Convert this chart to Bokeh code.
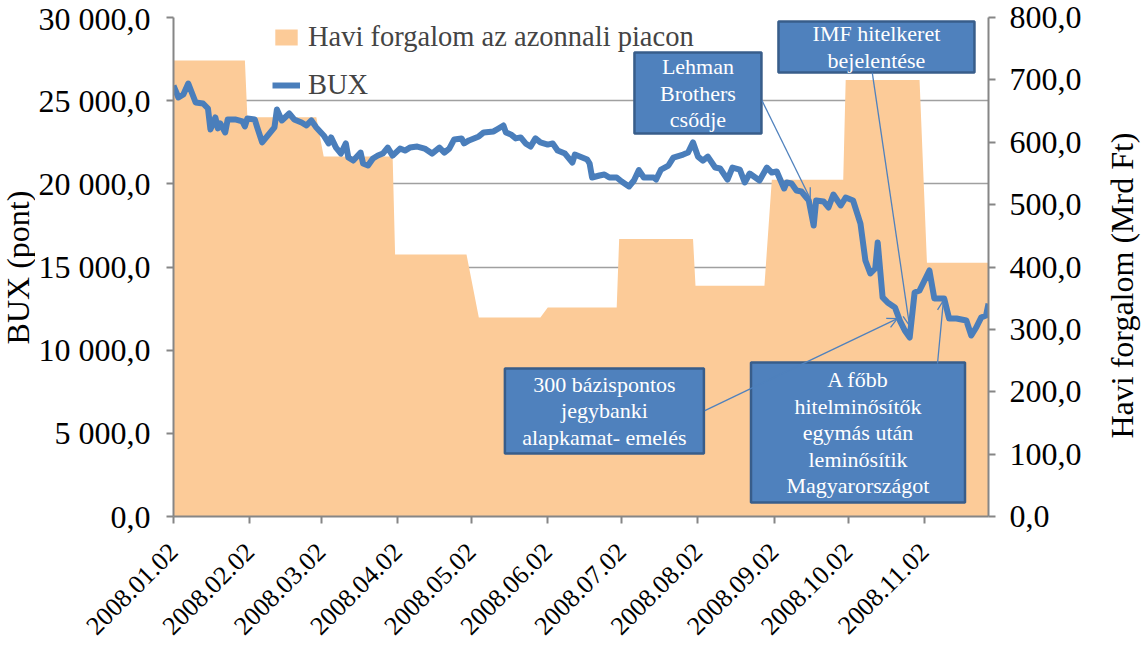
import math
import pandas as pd
from bokeh.plotting import figure
from bokeh.layouts import row
from bokeh.models import (Range1d, LinearAxis, FixedTicker, CustomJSTickFormatter,
                          DatetimeTickFormatter, Legend, LegendItem, Arrow, OpenHead, Label)
from bokeh.embed import file_html
from bokeh.resources import INLINE

# ---------------- data ----------------
months = ["2008-01", "2008-02", "2008-03", "2008-04", "2008-05", "2008-06",
          "2008-07", "2008-08", "2008-09", "2008-10", "2008-11"]
turnover = [731, 640, 577, 420, 319, 335, 445, 370, 540, 700, 407]  # Mrd Ft
holidays = ["2008-03-24", "2008-05-01", "2008-05-02", "2008-05-12",
            "2008-08-20", "2008-10-23", "2008-10-24"]

bux_dates = [
    "2008-01-02", "2008-01-04", "2008-01-06", "2008-01-08", "2008-01-11", "2008-01-14",
    "2008-01-16", "2008-01-17", "2008-01-19", "2008-01-20", "2008-01-21", "2008-01-23",
    "2008-01-24", "2008-01-27", "2008-01-30", "2008-01-31", "2008-02-01", "2008-02-04",
    "2008-02-05", "2008-02-07", "2008-02-10", "2008-02-12", "2008-02-13", "2008-02-15",
    "2008-02-18", "2008-02-20", "2008-02-23", "2008-02-25", "2008-02-27", "2008-02-29",
    "2008-03-03", "2008-03-05", "2008-03-06", "2008-03-08", "2008-03-10", "2008-03-12",
    "2008-03-13", "2008-03-15", "2008-03-18", "2008-03-19", "2008-03-21", "2008-03-23",
    "2008-03-25", "2008-03-27", "2008-03-29", "2008-03-31", "2008-04-03", "2008-04-05",
    "2008-04-07", "2008-04-10", "2008-04-13", "2008-04-16", "2008-04-19", "2008-04-21",
    "2008-04-23", "2008-04-25", "2008-04-28", "2008-04-29", "2008-05-01", "2008-05-05",
    "2008-05-07", "2008-05-11", "2008-05-13", "2008-05-15", "2008-05-16", "2008-05-18",
    "2008-05-20", "2008-05-22", "2008-05-24", "2008-05-26", "2008-05-28", "2008-05-30",
    "2008-06-02", "2008-06-04", "2008-06-06", "2008-06-09", "2008-06-12", "2008-06-13",
    "2008-06-16", "2008-06-18", "2008-06-19", "2008-06-20", "2008-06-23", "2008-06-25",
    "2008-06-27", "2008-06-30", "2008-07-02", "2008-07-05", "2008-07-07", "2008-07-09",
    "2008-07-11", "2008-07-15", "2008-07-16", "2008-07-18", "2008-07-21", "2008-07-23",
    "2008-07-27", "2008-07-29", "2008-07-31", "2008-08-02", "2008-08-04", "2008-08-06",
    "2008-08-09", "2008-08-11", "2008-08-14", "2008-08-16", "2008-08-19", "2008-08-21",
    "2008-08-23", "2008-08-27", "2008-08-30", "2008-09-01", "2008-09-03", "2008-09-06",
    "2008-09-07", "2008-09-09", "2008-09-11", "2008-09-13", "2008-09-15", "2008-09-16",
    "2008-09-18", "2008-09-19", "2008-09-22", "2008-09-24", "2008-09-26", "2008-09-29",
    "2008-10-01", "2008-10-04", "2008-10-07", "2008-10-09", "2008-10-11", "2008-10-13",
    "2008-10-14", "2008-10-16", "2008-10-18", "2008-10-21", "2008-10-23", "2008-10-25",
    "2008-10-27", "2008-10-29", "2008-10-31", "2008-11-02", "2008-11-04", "2008-11-06",
    "2008-11-10", "2008-11-12", "2008-11-15", "2008-11-19", "2008-11-21", "2008-11-23",
    "2008-11-25", "2008-11-27", "2008-11-28",
]
bux_values = [
    25910, 25190, 25370, 26030, 24890, 24830,
    24530, 23270, 23990, 23330, 23630, 23090,
    23870, 23870, 23750, 23450, 23930, 23870,
    23390, 22490, 23030, 23390, 24470, 23810,
    24230, 23870, 23690, 23510, 23810, 23390,
    22910, 22430, 22790, 22180, 21820, 22430,
    21580, 21400, 21880, 21220, 21100, 21520,
    21700, 21820, 22180, 21700, 22120, 22000,
    22180, 22240, 22120, 21820, 22180, 21880,
    22120, 22670, 22730, 22430, 22610, 22850,
    23090, 23150, 23330, 23510, 23090, 22970,
    22730, 22790, 22430, 22240, 22730, 22490,
    22360, 22430, 22000, 21820, 21280, 21760,
    21580, 21460, 21220, 20380, 20500, 20560,
    20380, 20380, 20140, 19840, 20200, 20830,
    20380, 20380, 20260, 20860, 21100, 21580,
    21760, 21880, 22490, 21640, 21400, 21640,
    20980, 20920, 20260, 20980, 20860, 20080,
    20620, 20200, 20980, 20680, 20740, 19720,
    20080, 20020, 19600, 19540, 19180, 19000,
    17490, 19000, 18940, 18580, 19360, 18700,
    19180, 19000, 17610, 15390, 14610, 14910,
    16470, 13170, 12870, 12570, 11780, 11180,
    10760, 13470, 13590, 14190, 14790, 13110,
    13110, 11900, 11900, 11780, 10880, 11360,
    11960, 12080, 12800,
]

x_tick_dates = ["2008-01-02", "2008-02-02", "2008-03-02", "2008-04-02", "2008-05-02",
                "2008-06-02", "2008-07-02", "2008-08-02", "2008-09-02", "2008-10-02",
                "2008-11-02"]
bux_ticks = [0, 5000, 10000, 15000, 20000, 25000, 30000]
forg_ticks = [0, 100, 200, 300, 400, 500, 600, 700, 800]

series_names = ["Havi forgalom az azonnali piacon", "BUX"]
axis_titles = ["BUX (pont)", "Havi forgalom (Mrd Ft)"]

events = [
    "Lehman\nBrothers\ncsődje",
    "IMF hitelkeret\nbejelentése",
    "300 bázispontos\njegybanki\nalapkamat- emelés",
    "A főbb\nhitelminősítők\negymás után\nleminősítik\nMagyarországot",
]
event_dates = ["2008-09-16 14:00", "2008-10-26 22:00", "2008-10-22", "2008-11-09 17:00"]
event_bux = [19120, 11480, 11900, 12990]

# ---------------- layout / style ----------------
FONT = "Liberation Serif"
ORANGE = "#FCCB98"
BLUE_LINE = "#4A7EBB"
BOX_FILL = "#4F81BD"
BOX_EDGE = "#385D8A"
AXIS_GRAY = "#868686"
LINE_H = 26.5          # px between annotation text lines
FRAME_W, FRAME_H = 815, 499
FRAME_L, BORDER_T = 173, 17
LSTRIP_W = 35          # strip holding the left axis title
RSTRIP_W = 45          # strip holding the right axis title
TOTAL_W, TOTAL_H = 1141, 652
TITLE_SHIFT = 126      # empirical vertical correction of rotated strip labels
Y_MAX = 30000
PX_TO_Y = Y_MAX / FRAME_H

# box centre (date, BUX value), size (px) and callout start point (date, BUX value)
box_center = [("2008-08-02", 25460), ("2008-10-13 12:00", 28226),
              ("2008-06-25", 6343), ("2008-10-06", 5050)]
box_size = [(127, 81), (196, 51), (199, 85), (214, 140)]
call_start = [("2008-08-28", 25010), ("2008-10-11 19:00", 26690),
              ("2008-08-04 19:00", 6370), ("2008-11-07 07:00", 9200)]


def ms(d):
    return pd.Timestamp(d).value // 10**6


# daily turnover series: monthly value on every trading day
days = pd.bdate_range("2008-01-02", "2008-11-28")
days = days[~days.isin(pd.to_datetime(holidays))]
mval = dict(zip(months, turnover))
tv = [mval[d.strftime("%Y-%m")] for d in days]

bux_dt = pd.to_datetime(bux_dates)

p = figure(x_axis_type="datetime", frame_width=FRAME_W, frame_height=FRAME_H,
           x_range=Range1d(pd.Timestamp("2008-01-02"), pd.Timestamp("2008-11-28")),
           y_range=Range1d(0, Y_MAX), output_backend="svg", toolbar_location=None,
           min_border_left=FRAME_L - LSTRIP_W,
           min_border_right=TOTAL_W - FRAME_L - FRAME_W - RSTRIP_W,
           min_border_top=BORDER_T, min_border_bottom=120)
p.extra_y_ranges = {"forg": Range1d(0, 800)}
p.background_fill_color = "white"
p.border_fill_color = "white"
p.outline_line_color = None

area = p.varea(x=days, y1=0, y2=tv, y_range_name="forg", fill_color=ORANGE)
line = p.line(bux_dt, bux_values, line_width=6, line_color=BLUE_LINE, line_join="round")

fmt_code = r"""
const s = tick.toFixed(1);
const parts = s.split('.');
return parts[0].replace(/\B(?=(\d{3})+(?!\d))/g, ' ') + ',' + parts[1];
"""

left = p.yaxis[0]
left.ticker = FixedTicker(ticks=bux_ticks)
left.formatter = CustomJSTickFormatter(code=fmt_code)

right = LinearAxis(y_range_name="forg", ticker=FixedTicker(ticks=forg_ticks),
                   formatter=CustomJSTickFormatter(code=fmt_code))
p.add_layout(right, "right")

bottom = p.xaxis[0]
bottom.ticker = FixedTicker(ticks=[ms(d) for d in x_tick_dates])
f = "%Y.%m.%d"
bottom.formatter = DatetimeTickFormatter(days=f, months=f, years=f, hours=f, minutes=f,
                                         hourmin=f, seconds=f, minsec=f, milliseconds=f,
                                         microseconds=f)
bottom.major_label_orientation = math.pi / 4

for ax in (left, right, bottom):
    ax.axis_line_color = AXIS_GRAY
    ax.axis_line_width = 2
    ax.major_tick_line_color = AXIS_GRAY
    ax.major_tick_line_width = 2
    ax.major_tick_out = 7
    ax.major_tick_in = 0
    ax.minor_tick_line_color = None
    ax.major_label_text_font = FONT
    ax.major_label_text_font_size = "32px"
    ax.major_label_text_color = "black"
    ax.major_label_standoff = 14
left.major_label_standoff = 16
bottom.major_label_text_font_size = "26px"
bottom.major_label_standoff = 24

p.xgrid.visible = False
p.ygrid.grid_line_color = "#A0A0A0"
p.ygrid.grid_line_width = 1.5

# callouts
for (sd, sv), ed, ev in zip(call_start, event_dates, event_bux):
    p.add_layout(Arrow(x_start=ms(sd), y_start=sv, x_end=ms(ed), y_end=ev,
                       line_color=BOX_FILL, line_width=1.3,
                       end=OpenHead(size=10, line_color=BOX_FILL, line_width=1.3)))

p.rect(x=[pd.Timestamp(c[0]) for c in box_center], y=[c[1] for c in box_center],
       width=[s[0] for s in box_size], height=[s[1] for s in box_size],
       width_units="screen", height_units="screen",
       fill_color=BOX_FILL, line_color=BOX_EDGE, line_width=2.5)

for (cd, cv), txt in zip(box_center, events):
    lines = txt.split("\n")
    n = len(lines)
    for i, ln in enumerate(lines):
        yv = cv - (i - (n - 1) / 2) * LINE_H * PX_TO_Y
        p.add_layout(Label(x=ms(cd), y=yv, text=ln, text_font=FONT, text_font_size="22px",
                           text_color="white", text_align="center", text_baseline="middle"))

legend = Legend(items=[LegendItem(label=series_names[0], renderers=[area]),
                       LegendItem(label=series_names[1], renderers=[line])],
                location=(99, 415), orientation="vertical",
                label_text_font=FONT, label_text_font_size="28.5px",
                glyph_width=28, glyph_height=20, label_standoff=8, spacing=16,
                padding=0, margin=0, background_fill_alpha=0, border_line_color=None)
p.add_layout(legend)


def title_strip(width, text, x_center, y_center_from_top):
    s = figure(width=width, height=TOTAL_H, x_range=Range1d(0, 1), y_range=Range1d(0, 1),
               output_backend="svg", toolbar_location=None, min_border=0,
               x_axis_location=None, y_axis_location=None)
    s.outline_line_color = None
    s.background_fill_color = "white"
    s.border_fill_color = "white"
    s.grid.visible = False
    s.add_layout(Label(x=x_center, y=TOTAL_H - y_center_from_top - TITLE_SHIFT,
                       x_units="screen", y_units="screen", text=text, angle=math.pi / 2,
                       text_align="center", text_baseline="middle", text_font=FONT,
                       text_font_size="32px", text_color="black"))
    return s


p_left = title_strip(LSTRIP_W, axis_titles[0], 17, 270)
p_right = title_strip(RSTRIP_W, axis_titles[1], 25, 288)

layout = row(p_left, p, p_right)
open("out.html", "w").write(file_html(layout, INLINE))
